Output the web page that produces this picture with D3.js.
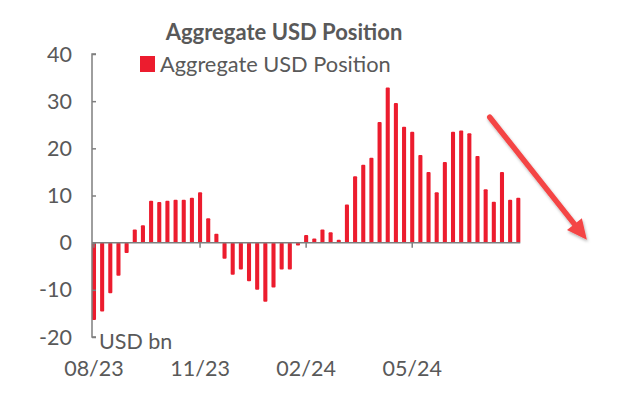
<!DOCTYPE html>
<html>
<head>
<meta charset="utf-8">
<script src="https://cdn.jsdelivr.net/npm/d3@7"></script>
<style>
  body { margin: 0; background: #fff; }
  svg text { font-family: Lato, "Open Sans", sans-serif; fill: #595959; }
</style>
</head>
<body>
<div id="chart"></div>
<script>
// weekly aggregate USD position, USD bn
var values = [
  -16.4, -14.6, -10.7, -7.0, -2.2, 2.8, 3.7, 8.9, 8.6, 8.9,
  9.1, 9.1, 9.5, 10.7, 5.2, 1.9, -3.4, -6.8, -5.7, -8.2,
  -10.0, -12.5, -9.5, -5.7, -5.7, -0.6, 1.6, 0.9, 2.8, 2.2,
  0.6, 8.1, 14.1, 16.5, 18.0, 25.6, 32.9, 29.6, 24.6, 23.5,
  18.6, 15.0, 10.7, 17.1, 23.5, 23.8, 23.2, 18.4, 11.3, 8.7,
  15.0, 9.1, 9.5
];
var yTicks = [-20, -10, 0, 10, 20, 30, 40];
// index of the week each month label sits on
var xTickIdx = [0, 13, 26, 39];
var xTickLabels = ["08/23", "11/23", "02/24", "05/24"];
// trend arrow in data units: [week index, value]
var arrowFrom = [48.5, 26.6];
var arrowTo = [60.4, 0.6];

var width = 640, height = 402;
var red = "#ec1c2e";
var grey = "#7f7f7f";

var svg = d3.select("#chart").append("svg")
  .attr("width", width)
  .attr("height", height);

var x = d3.scaleBand()
  .domain(d3.range(values.length))
  .range([89.9, 89.9 + 8.16 * values.length])
  .paddingInner(0.5)
  .paddingOuter(0.25);

var y = d3.scaleLinear().domain([-20, 40]).range([337, 54]);

var cx = function(i) { return x(i) + x.bandwidth() / 2; };
var xLin = d3.scaleLinear().domain([0, 1]).range([cx(0), cx(1)]);

// bars
svg.append("g").selectAll("rect")
  .data(values)
  .enter()
  .append("rect")
  .attr("x", (d, i) => x(i))
  .attr("width", x.bandwidth())
  .attr("y", d => y(Math.max(0, d)))
  .attr("height", d => Math.abs(y(d) - y(0)))
  .attr("rx", 1)
  .attr("fill", red);

// zero line
svg.append("line")
  .attr("x1", 92).attr("x2", cx(values.length - 1) + 2)
  .attr("y1", y(0)).attr("y2", y(0))
  .attr("stroke", grey).attr("stroke-width", 1.5);

// x ticks on zero line
svg.append("g").selectAll("line")
  .data(xTickIdx)
  .enter()
  .append("line")
  .attr("x1", d => cx(d)).attr("x2", d => cx(d))
  .attr("y1", y(0)).attr("y2", y(0) + 5)
  .attr("stroke", grey).attr("stroke-width", 1.5);

svg.append("g").selectAll("text")
  .data(xTickLabels)
  .enter()
  .append("text")
  .attr("x", (d, i) => cx(xTickIdx[i]))
  .attr("y", 376)
  .attr("text-anchor", "middle")
  .attr("font-size", 21.5)
  .text(d => d);

// y axis, ticks pointing inwards
var yAxis = d3.axisRight(y)
  .tickValues(yTicks)
  .tickSize(4)
  .tickFormat("");
var ya = svg.append("g").attr("transform", "translate(92,0)").call(yAxis);
ya.selectAll("path, line").attr("stroke", grey).attr("stroke-width", 1.5);
ya.select(".domain").attr("d", "M4," + y(40) + "H0V" + y(-20) + "H4");

svg.append("g").selectAll("text")
  .data(yTicks)
  .enter()
  .append("text")
  .attr("x", 72)
  .attr("y", d => y(d) + 7.5)
  .attr("text-anchor", "end")
  .attr("font-size", 21.5)
  .text(d => d);

svg.append("text")
  .attr("x", 99).attr("y", 349)
  .attr("font-size", 21.5)
  .text("USD bn");

// title and legend
svg.append("text")
  .attr("x", 284).attr("y", 40)
  .attr("text-anchor", "middle")
  .attr("font-size", 22)
  .attr("font-weight", "bold")
  .text("Aggregate USD Position");

svg.append("rect")
  .attr("x", 140).attr("y", 56)
  .attr("width", 15).attr("height", 16)
  .attr("fill", red);
svg.append("text")
  .attr("x", 160).attr("y", 72)
  .attr("font-size", 21.8)
  .text("Aggregate USD Position");

// trend arrow
var defs = svg.append("defs");
defs.append("filter").attr("id", "shadow")
  .append("feDropShadow")
  .attr("dx", 1).attr("dy", 2).attr("stdDeviation", 1.5)
  .attr("flood-color", "#000").attr("flood-opacity", 0.3);

var ax0 = xLin(arrowFrom[0]), ay0 = y(arrowFrom[1]);
var ax1 = xLin(arrowTo[0]), ay1 = y(arrowTo[1]);
var ang = Math.atan2(ay1 - ay0, ax1 - ax0);
var headLen = 20, headHalf = 9.5;
var bx = ax1 - headLen * Math.cos(ang), by = ay1 - headLen * Math.sin(ang);
var arrow = svg.append("g").attr("filter", "url(#shadow)");
arrow.append("line")
  .attr("x1", ax0).attr("y1", ay0)
  .attr("x2", bx).attr("y2", by)
  .attr("stroke", "#f44545").attr("stroke-width", 5.5)
  .attr("stroke-linecap", "round");
arrow.append("path")
  .attr("d", "M" + ax1 + "," + ay1 +
    "L" + (bx + headHalf * Math.sin(ang)) + "," + (by - headHalf * Math.cos(ang)) +
    "L" + (bx - headHalf * Math.sin(ang)) + "," + (by + headHalf * Math.cos(ang)) + "Z")
  .attr("fill", "#f44545");
</script>
</body>
</html>
